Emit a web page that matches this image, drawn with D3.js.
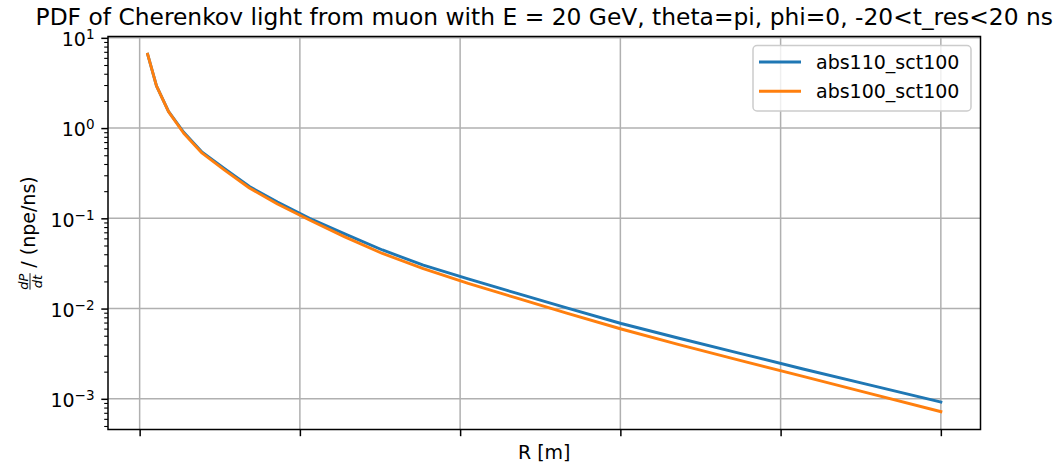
<!DOCTYPE html>
<html>
<head>
<meta charset="utf-8">
<script src="https://cdn.jsdelivr.net/npm/d3@7"></script>
<style>
  html, body { margin: 0; padding: 0; background: #fff; }
  svg { display: block; font-family: "DejaVu Sans", sans-serif; }
</style>
</head>
<body>
<svg id="chart" width="1061" height="469"></svg>
<script>
// Distance from the muon track (m)
const radius = [1.0, 2.1, 3.6, 5.5, 7.8, 10.6, 13.7, 17.2, 21.2, 25.6, 30.3, 35.4, 41.0,
                46.9, 53.3, 60.1, 67.2, 74.8, 82.8, 91.2, 100];
// dP/dt (npe/ns) for the two ice models
const abs110 = [6.56, 2.93, 1.53, 0.899, 0.541, 0.356, 0.225, 0.152, 0.100, 0.0673, 0.0446,
                0.0303, 0.0213, 0.0149, 0.0102, 0.00683, 0.00472, 0.00321, 0.00214, 0.00142, 0.000922];
const abs100 = [6.56, 2.93, 1.52, 0.877, 0.527, 0.342, 0.217, 0.144, 0.096, 0.0623, 0.0408,
                0.0277, 0.0190, 0.0132, 0.0089, 0.00594, 0.00401, 0.00268, 0.00177, 0.00114, 0.000721];
const seriesNames = ["abs110_sct100", "abs100_sct100"];
const seriesColors = ["#1f77b4", "#ff7f0e"];
const xTicks = [0, 20, 40, 60, 80, 100];
const yTicks = [1e-3, 1e-2, 1e-1, 1e0, 1e1];
const yTickExp = ["\u22123", "\u22122", "\u22121", "0", "1"];
const titleText = "PDF of Cherenkov light from muon with E = 20 GeV, theta=pi, phi=0, -20<t_res<20 ns";

const svg = d3.select("#chart");
const m = { left: 108, right: 980.5, top: 36.5, bottom: 429.5 };

// autoscale with 5% padding like matplotlib (log space for y)
const xMin = d3.min(radius), xMax = d3.max(radius);
const xPad = (xMax - xMin) * 0.05;
const x = d3.scaleLinear().domain([xMin - xPad, xMax + xPad]).range([m.left, m.right]);

const allY = abs110.concat(abs100);
const lMin = Math.log10(d3.min(allY)), lMax = Math.log10(d3.max(allY));
const lPad = (lMax - lMin) * 0.05;
const y = d3.scaleLog().domain([Math.pow(10, lMin - lPad), Math.pow(10, lMax + lPad)])
  .range([m.bottom, m.top]);

const grid = svg.append("g").attr("stroke", "#b0b0b0").attr("stroke-width", 1.5);
xTicks.forEach(t => grid.append("line")
  .attr("x1", x(t)).attr("x2", x(t)).attr("y1", m.top).attr("y2", m.bottom));
yTicks.forEach(t => grid.append("line")
  .attr("x1", m.left).attr("x2", m.right).attr("y1", y(t)).attr("y2", y(t)));

// curves
const line = d3.line().x((d, i) => x(radius[i])).y(d => y(d));
[abs110, abs100].forEach((s, i) => {
  svg.append("path").datum(s)
    .attr("fill", "none")
    .attr("stroke", seriesColors[i])
    .attr("stroke-width", 2.9)
    .attr("stroke-linejoin", "round")
    .attr("stroke-linecap", "square")
    .attr("d", line);
});

// axes frame
svg.append("rect")
  .attr("x", m.left).attr("y", m.top)
  .attr("width", m.right - m.left).attr("height", m.bottom - m.top)
  .attr("fill", "none").attr("stroke", "#000").attr("stroke-width", 1.5);

// x axis ticks (no labels)
const xAxis = d3.axisBottom(x).tickValues(xTicks).tickFormat(() => "").tickSize(6.7).tickSizeOuter(0);
const gx = svg.append("g").attr("transform", `translate(0,${m.bottom})`).call(xAxis);
gx.select(".domain").remove();
gx.selectAll(".tick line").attr("stroke", "#000").attr("stroke-width", 1.5);

// y axis major ticks
const yAxis = d3.axisLeft(y).tickValues(yTicks).tickFormat(() => "").tickSize(6.7).tickSizeOuter(0);
const gy = svg.append("g").attr("transform", `translate(${m.left},0)`).call(yAxis);
gy.select(".domain").remove();
gy.selectAll(".tick line").attr("stroke", "#000").attr("stroke-width", 1.5);

// y minor ticks
const [yLo, yHi] = y.domain();
const minor = [];
for (let e = Math.floor(Math.log10(yLo)); e <= Math.ceil(Math.log10(yHi)); e++) {
  for (let k = 2; k <= 9; k++) {
    const v = k * Math.pow(10, e);
    if (v >= yLo && v <= yHi) minor.push(v);
  }
}
const gyMinor = svg.append("g").attr("transform", `translate(${m.left},0)`)
  .call(d3.axisLeft(y).tickValues(minor).tickFormat(() => "").tickSize(3.8).tickSizeOuter(0));
gyMinor.select(".domain").remove();
gyMinor.selectAll(".tick line").attr("stroke", "#000").attr("stroke-width", 1.1);

// y tick labels as 10^n
yTicks.forEach((t, i) => {
  const txt = svg.append("text")
    .attr("x", m.left - 13.5).attr("y", y(t) + 8.3)
    .attr("text-anchor", "end").attr("font-size", 19).attr("fill", "#000");
  txt.append("tspan").text("10");
  txt.append("tspan").attr("font-size", 13.5).attr("dy", -6.9).text(yTickExp[i]);
});

// title, sized so it spans slightly wider than the axes
const title = svg.append("text")
  .attr("x", (m.left + m.right) / 2).attr("y", 25)
  .attr("text-anchor", "middle").attr("font-size", 22.8).attr("fill", "#000")
  .text(titleText);
const tw = title.node().getComputedTextLength();
if (tw > 0) title.attr("font-size", 22.8 * 1018 / tw);

// x label
svg.append("text")
  .attr("x", (m.left + m.right) / 2).attr("y", 459)
  .attr("text-anchor", "middle").attr("font-size", 19).attr("fill", "#000")
  .text("R [m]");

// y label: dP/dt fraction followed by units
const yl = svg.append("g")
  .attr("transform", `translate(35,${(m.top + m.bottom) / 2}) rotate(-90)`);
const inner = yl.append("g");
const fr = inner.append("g");
fr.append("text").attr("x", 8).attr("y", -7.5).attr("text-anchor", "middle")
  .attr("font-size", 13).attr("font-style", "italic").text("dP");
fr.append("text").attr("x", 8).attr("y", 7).attr("text-anchor", "middle")
  .attr("font-size", 13).attr("font-style", "italic").text("dt");
fr.append("line").attr("x1", 0).attr("x2", 16.5).attr("y1", -5).attr("y2", -5)
  .attr("stroke", "#000").attr("stroke-width", 0.9);
inner.append("text").attr("x", 22).attr("y", 0).attr("font-size", 19).text("/ (npe/ns)");
const bb = inner.node().getBBox();
inner.attr("transform", `translate(${-(bb.x + bb.width / 2)},0)`);

// legend
const lg = svg.append("g");
lg.append("rect")
  .attr("x", 753).attr("y", 45.5).attr("width", 218).attr("height", 65.5)
  .attr("rx", 4).attr("ry", 4)
  .attr("fill", "#fff").attr("fill-opacity", 0.8)
  .attr("stroke", "#cccccc").attr("stroke-width", 1.5);
seriesNames.forEach((n, i) => {
  const cy = 62 + i * 29.3;
  lg.append("line").attr("x1", 759).attr("x2", 801).attr("y1", cy).attr("y2", cy)
    .attr("stroke", seriesColors[i]).attr("stroke-width", 2.9);
  lg.append("text").attr("x", 816).attr("y", cy + 6.8)
    .attr("font-size", 19).attr("fill", "#000").text(n);
});
</script>
</body>
</html>
